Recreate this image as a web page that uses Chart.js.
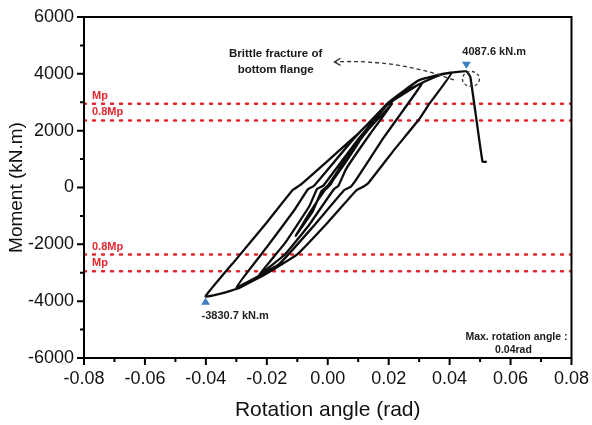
<!DOCTYPE html>
<html>
<head>
<meta charset="utf-8">
<script src="https://cdn.jsdelivr.net/npm/chart.js@4.4.1/dist/chart.umd.min.js"></script>
<style>
  html,body{margin:0;padding:0;background:#fff}
  canvas{display:block}
</style>
</head>
<body>
<canvas id="ch-hyst" width="592" height="425"></canvas>
<script>
/* hysteresis path (rad, kN.m) */
const angle=[
  0,0.005,0.0105,
  0.005,0.001,-0.001,-0.006,-0.0105,
  -0.005,-0.002,0.000,0.006,0.013,0.0212,
  0.014,0.006,0.0035,0.002,-0.006,-0.014,-0.0225,
  -0.014,-0.006,-0.0035,-0.0015,0.010,0.020,0.031,
  0.025,0.018,0.0095,0.0075,0.0055,-0.005,-0.016,-0.030,
  -0.020,-0.011,-0.0065,-0.0045,0.008,0.020,0.030,0.0407,
  0.0333,0.030,0.022,0.0135,0.0115,0.0095,0.000,-0.010,-0.0202,-0.0289,-0.0345,-0.0401,
  -0.030,-0.020,-0.0115,-0.0091,0.000,0.010,0.019,0.0256,0.0322,0.0375,0.0407,0.0435,0.0455,0.0468,0.0508,0.0522
];
const moment=[
  0,750,1650,
  900,120,-100,-900,-1700,
  -850,-120,60,1000,2000,2950,
  1900,650,60,-60,-1300,-2350,-3080,
  -1950,-650,-50,60,1700,2950,3680,
  2750,1700,300,20,-80,-1400,-2700,-3514,
  -2100,-800,-60,60,1650,3000,3780,4046,
  2940,2400,1350,180,20,-90,-1230,-2350,-3034,-3528,-3720,-3830.7,
  -2520,-1230,-90,80,940,1900,2850,3380,3750,3980,4046,4080,4087.6,3900,906,906
];

/* plastic moment reference lines */
const mpLevels=[2950,2360,-2360,-2950];
const mpNames=['Mp','0.8Mp','0.8Mp','Mp'];

/* peak markers */
const peakAngle=[0.0455,-0.0401];
const peakMoment=[4087.6,-3830.7];
const peakText=['4087.6 kN.m','-3830.7 kN.m'];

/* axes */
const xMin=-0.08, xMax=0.08, xStep=0.01;
const yMin=-6000, yMax=6000, yStep=1000;

const FONT="'Liberation Sans', Arial, sans-serif";
const RED='#e3262d';
const BLUE='#3f7fc0';

/* ---------- frame + major/minor ticks ---------- */
const frameTicks={
  id:'frameTicks',
  afterDraw(chart){
    const {ctx,chartArea:a,scales:{x,y}}=chart;
    ctx.save();
    ctx.strokeStyle='#000';
    ctx.lineWidth=2;
    ctx.strokeRect(a.left,a.top,a.right-a.left,a.bottom-a.top);
    ctx.beginPath();
    x.ticks.forEach(t=>{
      const px=x.getPixelForValue(t.value);
      const len=(Math.round(t.value*100)%2===0)?7:4;
      ctx.moveTo(px,a.bottom);ctx.lineTo(px,a.bottom+len);
    });
    y.ticks.forEach(t=>{
      const py=y.getPixelForValue(t.value);
      const len=(Math.round(t.value)%2000===0)?7:4;
      ctx.moveTo(a.left,py);ctx.lineTo(a.left-len,py);
    });
    ctx.stroke();
    ctx.restore();
  }
};

/* ---------- notes drawn on the plot ---------- */
function tri(ctx,cx,cy,down){
  ctx.beginPath();
  if(down){ctx.moveTo(cx-4.5,cy-3.5);ctx.lineTo(cx+4.5,cy-3.5);ctx.lineTo(cx,cy+3.5);}
  else{ctx.moveTo(cx-4.5,cy+3.5);ctx.lineTo(cx+4.5,cy+3.5);ctx.lineTo(cx,cy-3.5);}
  ctx.closePath();ctx.fill();
}
const notes={
  id:'notes',
  afterDatasetsDraw(chart){
    const {ctx,chartArea:a,scales:{x,y}}=chart;
    ctx.save();
    // Mp labels
    ctx.fillStyle=RED;ctx.font='bold 11px '+FONT;ctx.textBaseline='middle';ctx.textAlign='left';
    mpLevels.forEach((v,i)=>ctx.fillText(mpNames[i],a.left+8,y.getPixelForValue(v)-8));

    // peak markers + values
    const p0x=x.getPixelForValue(peakAngle[0]),p0y=y.getPixelForValue(peakMoment[0]);
    const p1x=x.getPixelForValue(peakAngle[1]),p1y=y.getPixelForValue(peakMoment[1]);
    ctx.fillStyle=BLUE;
    tri(ctx,p0x,p0y-6,true);
    tri(ctx,p1x,p1y+5,false);
    ctx.fillStyle='#222';ctx.font='bold 11px '+FONT;
    ctx.fillText(peakText[0],p0x-4,p0y-19);
    ctx.fillText(peakText[1],p1x-4,p1y+20);

    // fracture note
    ctx.textAlign='center';ctx.font='bold 11.5px '+FONT;ctx.fillStyle='#1a1a1a';
    const nx=x.getPixelForValue(-0.0171),ny=y.getPixelForValue(4700);
    ctx.fillText('Brittle fracture of',nx,ny);
    ctx.fillText('bottom flange',nx,ny+16);

    // dashed arrow from fracture point to note
    const sx=x.getPixelForValue(0.0414),sy=y.getPixelForValue(3785);
    const ex=x.getPixelForValue(0.0022),ey=y.getPixelForValue(4420);
    ctx.strokeStyle='#333';ctx.lineWidth=1.3;ctx.setLineDash([4,3]);
    ctx.beginPath();ctx.moveTo(sx,sy);
    ctx.quadraticCurveTo(x.getPixelForValue(0.023),ey-3,ex,ey);
    ctx.stroke();
    ctx.setLineDash([]);
    ctx.beginPath();ctx.moveTo(ex+6,ey-3.5);ctx.lineTo(ex,ey);ctx.lineTo(ex+6,ey+3.5);ctx.stroke();

    // dashed ellipse round the fracture
    ctx.setLineDash([3,2.5]);
    ctx.beginPath();
    ctx.ellipse(x.getPixelForValue(0.047),y.getPixelForValue(3820),8.5,7.5,0,0,Math.PI*2);
    ctx.stroke();
    ctx.setLineDash([]);

    // max rotation note
    ctx.fillStyle='#1a1a1a';ctx.font='bold 10.5px '+FONT;
    ctx.textAlign='right';
    ctx.fillText('Max. rotation angle :',a.right-4,a.bottom-21);
    ctx.textAlign='center';
    ctx.fillText('0.04rad',a.right-58,a.bottom-8);
    ctx.restore();
  }
};

const hystPts=angle.map((a,i)=>({x:a,y:moment[i]}));
const mpSets=mpLevels.map(v=>({
  data:[{x:xMin,y:v},{x:xMax,y:v}],
  showLine:true,borderColor:RED,borderWidth:2.5,borderDash:[2,7],borderCapStyle:'round',
  pointRadius:0,order:2
}));

new Chart(document.getElementById('ch-hyst'),{
  type:'scatter',
  data:{datasets:[
    {data:hystPts,showLine:true,borderColor:'#0d0d0d',borderWidth:2.3,pointRadius:0,tension:0.1,order:1},
    ...mpSets
  ]},
  options:{
    responsive:false,animation:false,
    layout:{padding:{top:17,right:19,left:0,bottom:0}},
    plugins:{legend:{display:false},tooltip:{enabled:false}},
    scales:{
      x:{
        type:'linear',min:xMin,max:xMax,
        afterFit:s=>{s.height=67;},
        ticks:{stepSize:xStep,autoSkip:false,maxRotation:0,padding:3,color:'#111',font:{family:FONT,size:18},
          callback:v=>{const k=Math.round(v*100);return k%2===0?(k/100).toFixed(2):'';}},
        grid:{drawOnChartArea:false,drawTicks:true,tickLength:7,tickColor:'rgba(0,0,0,0)'},
        border:{display:false},
        title:{display:true,text:'Rotation angle (rad)',color:'#111',font:{family:FONT,size:21},padding:{top:2,bottom:2}}
      },
      y:{
        type:'linear',min:yMin,max:yMax,
        afterFit:s=>{s.width=84;},
        ticks:{stepSize:yStep,autoSkip:false,padding:3,color:'#111',font:{family:FONT,size:18},
          callback:v=>(Math.round(v)%2000===0?String(Math.round(v)):'')},
        grid:{drawOnChartArea:false,drawTicks:true,tickLength:7,tickColor:'rgba(0,0,0,0)'},
        border:{display:false},
        title:{display:true,text:'Moment (kN.m)',color:'#111',font:{family:FONT,size:19},padding:{top:5,bottom:0}}
      }
    }
  },
  plugins:[frameTicks,notes]
});
</script>
</body>
</html>
